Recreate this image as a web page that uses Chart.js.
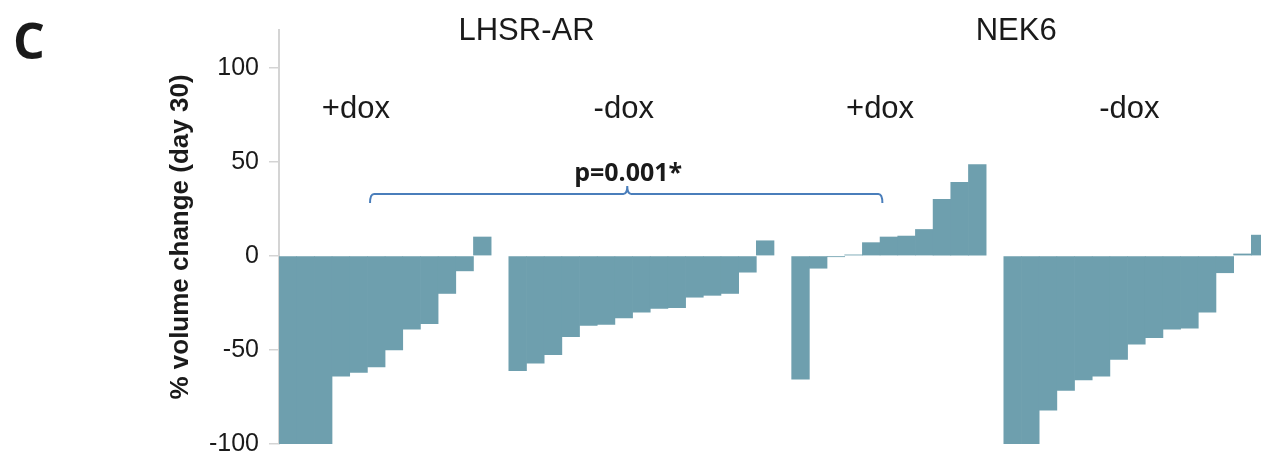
<!DOCTYPE html>
<html>
<head>
<meta charset="utf-8">
<script src="https://cdn.jsdelivr.net/npm/chart.js@4"></script>
<style>
  html, body { margin: 0; padding: 0; background: #fff; overflow: hidden; }
  #wrap { position: relative; width: 1269px; height: 455px; }
</style>
</head>
<body>
<div id="wrap"><canvas id="canvas"></canvas></div>
<script>
// % volume change at day 30, one bar per tumour, sorted within each group
var lhsrDox   = [-100, -100, -100, -64, -62, -59, -50, -39, -36, -20, -8, 10];
var lhsrNoDox = [-61, -57, -52.5, -43, -37, -36.5, -33, -30, -28, -27.5, -22, -21, -20, -8.7, 8];
var nek6Dox   = [-65.5, -6.6, -0.5, 0.5, 7, 10, 10.5, 14, 30, 39, 48.5];
var nek6NoDox = [-100, -100, -82, -71.5, -66, -64, -55, -47, -43.5, -39, -38.5, -30, -9, 1, 11];
var yTicks = [-100, -50, 0, 50, 100];

// one empty slot between groups
var values = [].concat(lhsrDox, [null], lhsrNoDox, [null], nek6Dox, [null], nek6NoDox);
var labels = values.map(function () { return ''; });

// text labels, anchored in data units (x = bar slot, y = % value)
var notes = [
    {text: 'LHSR-AR', x: 13.5, y: 114.5},
    {text: 'NEK6',    x: 41.2, y: 114.5},
    {text: '+dox',    x: 3.85, y: 73},
    {text: '-dox',    x: 19.0, y: 73},
    {text: '+dox',    x: 33.5, y: 73},
    {text: '-dox',    x: 47.6, y: 73}
];

var annotate = {
    id: 'annotate',
    afterDraw: function (chart) {
        var ctx = chart.ctx;
        var xs = chart.scales.x, ys = chart.scales.y;
        ctx.save();
        ctx.fillStyle = '#1a1a1a';
        ctx.textAlign = 'center';
        ctx.textBaseline = 'alphabetic';
        ctx.font = '31px "Liberation Sans", Arial, sans-serif';
        notes.forEach(function (n) {
            ctx.fillText(n.text, xs.getPixelForValue(n.x), ys.getPixelForValue(n.y));
        });

        // p-value and bracket between LHSR-AR +dox and -dox
        ctx.font = 'bold 25px "Open Sans", sans-serif';
        ctx.fillText('p=0.001*', xs.getPixelForValue(19.25), ys.getPixelForValue(40));

        var x1 = xs.getPixelForValue(4.65), x2 = xs.getPixelForValue(33.63), xm = xs.getPixelForValue(19.2);
        var yl = ys.getPixelForValue(32.9), yEnd = ys.getPixelForValue(28.1), yTop = ys.getPixelForValue(37.1);
        ctx.strokeStyle = '#4a7ebb';
        ctx.lineWidth = 2;
        ctx.beginPath();
        ctx.moveTo(x1, yEnd);
        ctx.quadraticCurveTo(x1, yl, x1 + 4, yl);
        ctx.lineTo(xm - 4, yl);
        ctx.quadraticCurveTo(xm, yl, xm, yTop);
        ctx.quadraticCurveTo(xm, yl, xm + 4, yl);
        ctx.lineTo(x2 - 4, yl);
        ctx.quadraticCurveTo(x2, yl, x2, yEnd);
        ctx.stroke();

        // panel letter
        ctx.textAlign = 'left';
        ctx.font = 'bold 50px "Open Sans", sans-serif';
        ctx.fillText('C', 13, 59);
        ctx.restore();
    }
};

var chart = new Chart(document.getElementById('canvas'), {
    type: 'bar',
    data: {
        labels: labels,
        datasets: [{
            data: values,
            backgroundColor: 'rgb(110,159,174)',
            borderWidth: 0,
            barPercentage: 1,
            categoryPercentage: 1
        }]
    },
    options: {
        responsive: true,
        maintainAspectRatio: false,
        animation: false,
        layout: {padding: {left: 160, top: 30, bottom: 11, right: 0}},
        plugins: {legend: {display: false}, tooltip: {enabled: false}},
        scales: {
            x: {display: false},
            y: {
                min: -100,
                max: 120,
                afterFit: function (scale) {
                    scale.width = 119;
                    scale.paddingTop = 0;
                    scale.paddingBottom = 0;
                },
                afterBuildTicks: function (scale) {
                    scale.ticks = yTicks.map(function (v) { return {value: v}; });
                },
                border: {display: true, color: '#d4d4d4', width: 2},
                grid: {drawOnChartArea: false, drawTicks: true, tickLength: 10, color: '#d4d4d4', lineWidth: 1.5},
                ticks: {
                    padding: 10,
                    color: '#1a1a1a',
                    font: {family: '"Liberation Sans", Arial, sans-serif', size: 25}
                },
                title: {
                    display: true,
                    text: '% volume change (day 30)',
                    color: '#1a1a1a',
                    padding: {top: 5, bottom: 0},
                    font: {family: '"Liberation Sans", Arial, sans-serif', size: 26, weight: 'bold'}
                }
            }
        }
    },
    plugins: [annotate]
});
</script>
</body>
</html>
